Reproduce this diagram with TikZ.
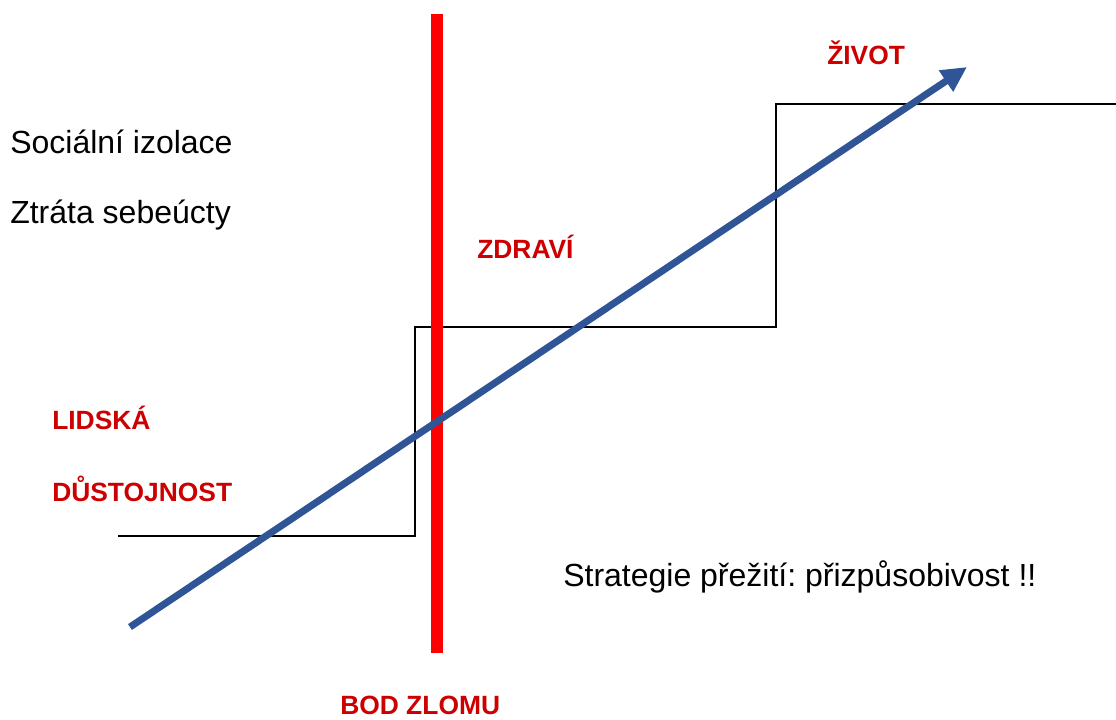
\documentclass[tikz,border=0pt]{standalone}
\usepackage{fontspec}
\setmainfont{Liberation Sans}
\frenchspacing
\usepackage{xcolor}
\definecolor{arrowBlue}{HTML}{2F5597}
\definecolor{breakRed}{HTML}{FF0000}
\definecolor{labelRed}{HTML}{CC0000}
\usetikzlibrary{arrows.meta}
\tikzset{%
  plainText/.style={%
    anchor=base west,
    inner sep=0pt,
    font=\fontsize{24}{28}\selectfont
  },
  redLabel/.style={%
    anchor=base west,
    inner sep=0pt,
    text=labelRed,
    font=\fontsize{19.8}{23}\selectfont\bfseries
  },
  stepLine/.style={%
    line width=1.6pt,
    color=black
  },
  breakLine/.style={%
    line width=9pt,
    color=breakRed
  },
  lifeArrow/.style={%
    -{Triangle[length=19pt,width=18pt]},
    line width=5.25pt,
    color=arrowBlue
  }
}

\begin{document}
\begin{tikzpicture}[x=0.75pt,y=-0.75pt]
            \useasboundingbox (0,0) rectangle (1116,719);

            % step line
            \coordinate (s0) at (118,536);
            \coordinate (s1) at (415,536);
            \coordinate (s2) at (415,327);
            \coordinate (s3) at (776,327);
            \coordinate (s4) at (776,104);
            \coordinate (s5) at (1116,104);
            \draw[stepLine] (s0) -- (s1) -- (s2) -- (s3) -- (s4) -- (s5);

            % breaking point
            \coordinate (breakTop) at (437,14);
            \coordinate (breakBottom) at (437,653);
            \draw[breakLine] (breakTop) -- (breakBottom);

            % arrow
            \coordinate (arrowStart) at (130,627);
            \coordinate (arrowEnd) at (967,67);
            \draw[lifeArrow] (arrowStart) -- (arrowEnd);

            \node[plainText] (isolation) at (10,153) {Sociální izolace};
            \node[plainText] (selfEsteem) at (10,223) {Ztráta sebeúcty};
            \node[plainText] (strategy) at (563,586) {Strategie přežití: přizpůsobivost !!};

            \node[redLabel] (life) at (827,64) {ŽIVOT};
            \node[redLabel] (health) at (477,258) {ZDRAVÍ};
            \node[redLabel] (human) at (52,429) {LIDSKÁ};
            \node[redLabel] (dignity) at (52,501) {DŮSTOJNOST};
            \node[redLabel] (breakPoint) at (340,714) {BOD ZLOMU};
        \end{tikzpicture}
\end{document}
